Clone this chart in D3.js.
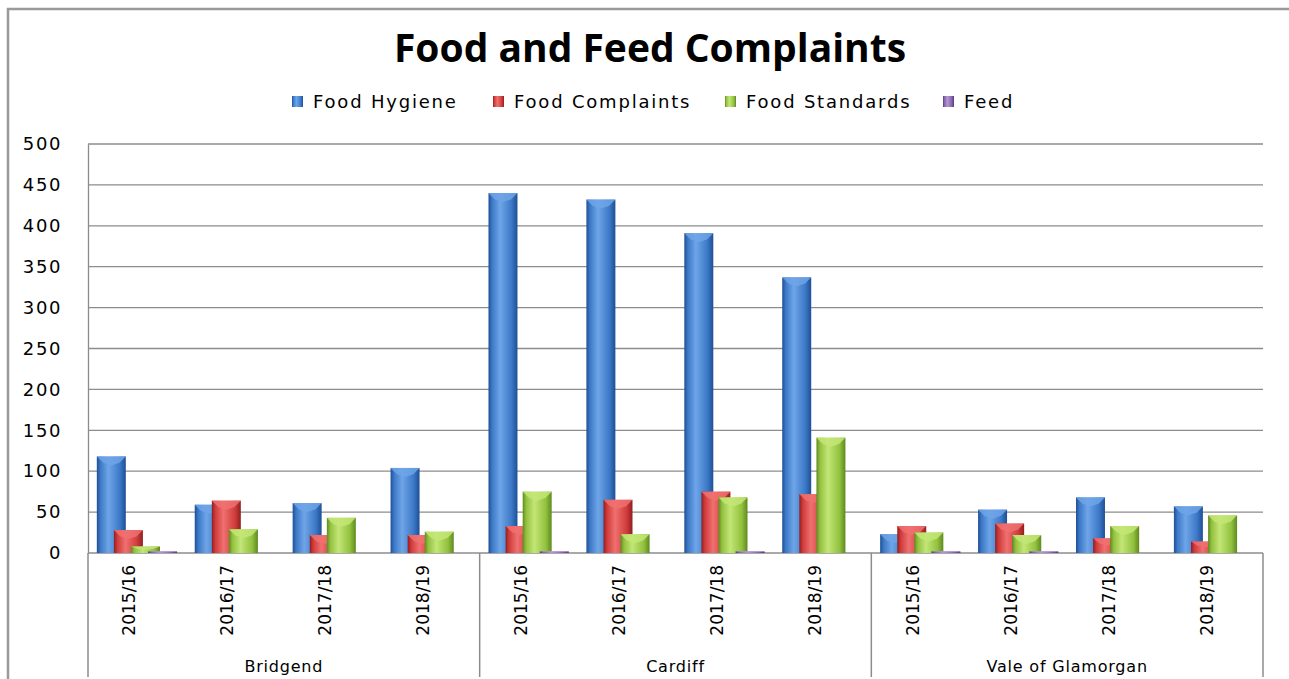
<!DOCTYPE html>
<html>
<head>
<meta charset="utf-8">
<script src="https://cdn.jsdelivr.net/npm/d3@7"></script>
<style>
  body { margin: 0; background: #fff; }
  svg text { fill: #000; }
</style>
</head>
<body>
<div id="chart"></div>
<script>
// Data
const groups = ['Bridgend', 'Cardiff', 'Vale of Glamorgan'];
const years = ['2015/16', '2016/17', '2017/18', '2018/19'];
const seriesNames = ['Food Hygiene', 'Food Complaints', 'Food Standards', 'Feed'];

// one value per group x year, in group order
const foodHygiene    = [118, 59, 61, 104,   440, 432, 391, 337,   23, 53, 68, 57];
const foodComplaints = [ 28, 64, 22,  22,    33,  65,  75,  72,   33, 36, 18, 14];
const foodStandards  = [  8, 29, 43,  26,    75,  23,  68, 141,   25, 22, 33, 46];
const feed           = [  2,  0,  0,   0,     2,   0,   2,   0,    2,  2,  0,  0];

const yTicks = [0, 50, 100, 150, 200, 250, 300, 350, 400, 450, 500];

const seriesVals = [foodHygiene, foodComplaints, foodStandards, feed];
const colors = [
    {base:'#3b78c6', light:'#6fa5e8', dark:'#1f4f95'},
    {base:'#d03b3b', light:'#f07070', dark:'#8f1f1f'},
    {base:'#92c13e', light:'#c3e676', dark:'#5f8a1f'},
    {base:'#8464a8', light:'#b597d6', dark:'#553a7a'}
];

const W = 1289, H = 679;
const plot = {left: 88, right: 1263, top: 144, bottom: 553};

let svg = d3.select('#chart').append('svg')
    .attr('width', W)
    .attr('height', H);

// gradients for the bevelled bars
let defs = svg.append('defs');
colors.forEach((c, i) => {
    let g = defs.append('linearGradient').attr('id', 'grad' + i)
        .attr('x1', '0%').attr('x2', '100%').attr('y1', '0%').attr('y2', '0%');
    g.append('stop').attr('offset', '0%').attr('stop-color', c.dark);
    g.append('stop').attr('offset', '12%').attr('stop-color', c.base);
    g.append('stop').attr('offset', '40%').attr('stop-color', c.light);
    g.append('stop').attr('offset', '80%').attr('stop-color', c.base);
    g.append('stop').attr('offset', '100%').attr('stop-color', c.dark);
});

// outer frame
svg.append('path')
    .attr('d', `M8,${H} L8,9 L${W},9`)
    .attr('fill', 'none')
    .attr('stroke', '#999')
    .attr('stroke-width', 2.5);

// Title
svg.append('text')
    .attr('x', 650).attr('y', 62)
    .attr('text-anchor', 'middle')
    .style('font-family', 'Open Sans, sans-serif')
    .style('font-weight', 'bold')
    .style('font-size', '39px')
    .text('Food and Feed Complaints');

// Legend
const legendX = [292, 493, 725, 943];
let legend = svg.append('g').selectAll('g')
    .data(seriesNames).enter()
    .append('g')
    .attr('transform', (d, i) => `translate(${legendX[i]},96)`);
legend.append('rect')
    .attr('width', 11).attr('height', 11)
    .attr('fill', (d, i) => `url(#grad${i})`);
legend.append('text')
    .attr('x', 21).attr('y', 12)
    .style('font-family', 'DejaVu Sans, sans-serif')
    .style('font-size', '18px')
    .style('letter-spacing', '1.8px')
    .text(d => d);

// Scales
let y = d3.scaleLinear().domain([0, 500]).range([plot.bottom, plot.top]);
let cats = [];
groups.forEach(g => years.forEach(yr => cats.push(g + '|' + yr)));
let x = d3.scaleBand().domain(cats).range([plot.left, plot.right]).padding(0);
let xg = d3.scaleBand().domain(groups).range([plot.left, plot.right]).padding(0);

// Gridlines
svg.append('g').selectAll('line')
    .data(yTicks).enter()
    .append('line')
    .attr('x1', plot.left).attr('x2', plot.right)
    .attr('y1', d => y(d)).attr('y2', d => y(d))
    .attr('stroke', '#8c8c8c')
    .attr('stroke-width', 1.3);

// Y axis
let yAxis = svg.append('g')
    .attr('transform', `translate(${plot.left},0)`)
    .call(d3.axisLeft(y).tickValues(yTicks).tickSize(0).tickPadding(26));
yAxis.select('.domain').attr('stroke', '#8c8c8c').attr('stroke-width', 1.3);
yAxis.selectAll('text')
    .style('font-family', 'DejaVu Sans, sans-serif')
    .style('font-size', '18px')
    .style('letter-spacing', '1.6px');

// Bars
const cw = x.bandwidth();
const bw = cw * 0.296;
const step = bw * 0.59;
const pad = (cw - (bw + 3 * step)) / 2;

seriesVals.forEach((vals, s) => {
    let bars = svg.append('g').selectAll('g')
        .data(vals.map((v, i) => ({v: v, cat: cats[i]}))).enter()
        .append('g')
        .filter(d => d.v > 0);
    bars.append('rect')
        .attr('x', d => x(d.cat) + pad + s * step)
        .attr('y', d => y(d.v))
        .attr('width', bw)
        .attr('height', d => y(0) - y(d.v))
        .attr('fill', `url(#grad${s})`);
    // bevelled top
    bars.append('path')
        .attr('d', d => {
            let x0 = x(d.cat) + pad + s * step, y0 = y(d.v);
            let h = Math.min(9, (y(0) - y(d.v)) / 2);
            return `M${x0},${y0} L${x0 + bw},${y0} L${x0 + bw * 0.78},${y0 + h * 0.7} L${x0 + bw / 2},${y0 + h} L${x0 + bw * 0.22},${y0 + h * 0.7} Z`;
        })
        .attr('fill', colors[s].light)
        .attr('opacity', 0.85);
});

// X axis separators (group boundaries)
let seps = groups.map(g => xg(g)).concat([plot.right]);
svg.append('g').selectAll('line')
    .data(seps).enter()
    .append('line')
    .attr('x1', d => d).attr('x2', d => d)
    .attr('y1', plot.bottom).attr('y2', 677)
    .attr('stroke', '#8c8c8c')
    .attr('stroke-width', 1.5);

// year labels
svg.append('g').selectAll('text')
    .data(cats).enter()
    .append('text')
    .attr('transform', d => `translate(${x(d) + cw / 2 - 1.5},565) rotate(-90)`)
    .attr('text-anchor', 'end')
    .style('font-family', 'DejaVu Sans, sans-serif')
    .style('font-size', '17px')
    .text(d => d.split('|')[1]);

// group labels
svg.append('g').selectAll('text')
    .data(groups).enter()
    .append('text')
    .attr('x', d => xg(d) + xg.bandwidth() / 2)
    .attr('y', 672)
    .attr('text-anchor', 'middle')
    .style('font-family', 'DejaVu Sans, sans-serif')
    .style('font-size', '16px')
    .style('letter-spacing', '0.8px')
    .text(d => d);
</script>
</body>
</html>
